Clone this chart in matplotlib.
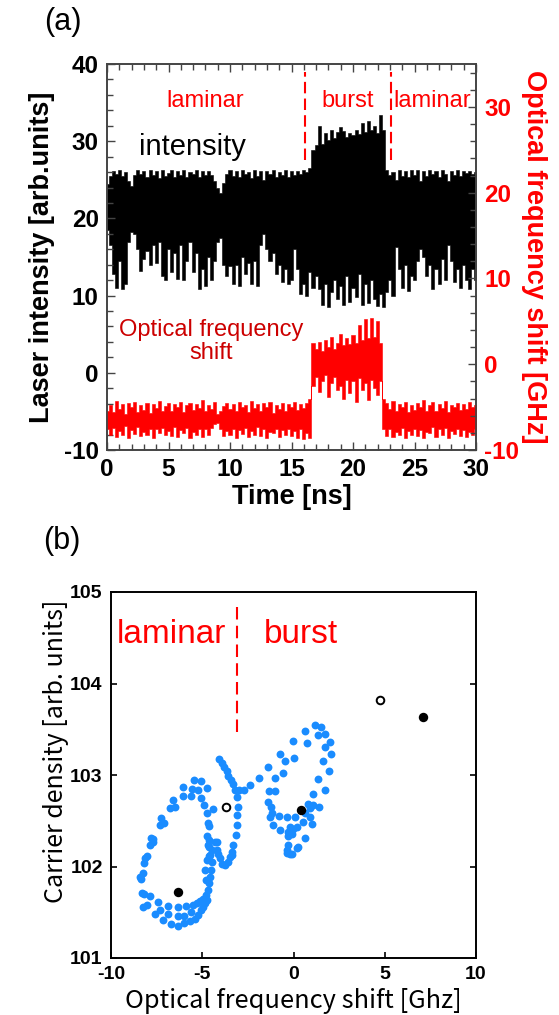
import numpy as np
import matplotlib
matplotlib.use("Agg")
import matplotlib.pyplot as plt
from matplotlib.ticker import MultipleLocator

plt.rcParams['font.family'] = ['Liberation Sans', 'DejaVu Sans']
plt.rcParams['axes.unicode_minus'] = False

time_ns = np.linspace(0, 30, 121)

intensity_upper = [
    24.5, 25.5, 26.2, 25.8, 26.3, 25.5, 26.0, 24.8, 24.2, 25.6, 26.3, 25.7, 26.2, 25.4, 26.3, 25.6, 26.1, 25.2, 26.3, 25.5,
    25.9, 26.3, 25.4, 26.2, 25.6, 26.3, 25.4, 26.0, 25.8, 26.3, 25.3, 26.1, 25.6, 26.2, 25.6, 24.8, 24.0, 23.3, 24.6, 25.8,
    26.3, 25.5, 26.1, 25.3, 26.3, 25.7, 26.0, 25.2, 26.3, 25.5, 26.2, 25.0, 26.1, 25.7, 26.3, 25.4, 26.0, 25.6, 26.3, 25.3,
    26.1, 25.6, 26.2, 25.8, 26.3, 26.0, 26.5, 28.8, 29.5, 32.0, 29.6, 31.0, 30.2, 31.5, 30.4, 31.2, 31.8, 31.3, 30.6, 31.0,
    30.8, 31.5, 30.9, 32.4, 31.2, 32.6, 31.4, 32.0, 31.0, 33.4, 31.5, 26.3, 25.6, 26.0, 25.0, 26.3, 25.5, 26.2, 25.4, 26.3,
    25.6, 26.3, 24.9, 26.1, 25.5, 26.3, 25.7, 26.2, 25.3, 26.3, 25.8, 24.9, 26.2, 25.6, 26.3, 25.5, 26.1, 25.9, 26.2, 25.7, 26.0,
]
intensity_lower = [
    18.5, 16.5, 12.8, 11.0, 14.5, 10.8, 11.5, 17.0, 18.2, 18.0, 16.0, 13.2, 14.8, 15.8, 14.0, 16.5, 14.2, 17.0, 12.5, 12.0,
    16.0, 13.0, 15.5, 12.2, 16.5, 12.0, 14.5, 17.0, 13.0, 15.5, 10.8, 13.5, 11.2, 15.0, 12.0, 14.5, 17.0, 17.5, 14.0, 12.5,
    13.8, 11.5, 14.0, 11.2, 15.0, 12.8, 14.2, 11.5, 14.5, 11.3, 16.5, 18.0, 16.0, 14.5, 15.5, 12.8, 14.0, 11.8, 13.5, 11.5,
    12.0, 16.0, 13.5, 10.2, 11.5, 10.0, 13.0, 11.0, 12.5, 10.8, 8.8, 11.5, 8.5, 10.5, 12.0, 9.5, 11.2, 8.8, 12.5, 9.2,
    11.0, 9.8, 12.8, 8.8, 11.5, 9.0, 12.0, 9.5, 8.6, 10.2, 8.5, 10.5, 12.0, 10.0, 16.3, 13.5, 11.0, 14.0, 10.6, 12.5,
    12.0, 14.5, 16.0, 15.0, 12.5, 14.0, 10.8, 13.5, 11.5, 14.8, 12.0, 16.5, 14.5, 11.8, 13.5, 11.0, 14.0, 12.0, 10.8, 13.5, 12.0,
]
shift_upper = [
    -5.5, -4.8, -5.6, -4.3, -5.2, -4.6, -5.8, -4.5, -5.0, -4.4, -5.6, -4.7, -5.3, -4.5, -5.7, -4.6, -5.1, -4.3, -5.5, -4.9,
    -4.5, -5.4, -4.6, -5.0, -4.4, -5.6, -4.8, -4.5, -5.3, -4.6, -5.1, -4.2, -5.5, -4.7, -5.2, -4.4, -5.8, -5.5, -4.9, -4.5,
    -5.2, -4.6, -5.5, -4.4, -5.0, -4.7, -5.6, -4.3, -5.1, -4.6, -5.4, -4.5, -5.0, -4.4, -5.7, -4.8, -5.2, -4.5, -5.5, -4.6,
    -5.0, -4.4, -5.3, -4.6, -5.1, -4.5, -4.0, 2.5, 1.8, 2.6, 1.5, 2.8, 2.0, 3.2, 1.8, 2.5, 3.5, 2.2, 3.0, 2.4,
    3.4, 2.5, 4.6, 2.8, 5.3, 3.0, 5.4, 3.2, 5.0, 2.5, -4.0, -4.5, -5.2, -4.3, -5.4, -4.6, -5.0, -4.4, -5.6, -4.7,
    -5.3, -4.5, -5.0, -4.2, -5.4, -4.8, -4.4, -5.5, -4.6, -5.1, -4.3, -5.6, -4.7, -5.0, -4.5, -5.3, -4.6, -5.2, -4.4, -5.0, -4.8,
]
shift_lower = [
    -7.5, -8.2, -7.4, -8.5, -7.8, -8.3, -7.2, -8.6, -7.7, -8.1, -7.3, -8.4, -7.9, -8.2, -7.5, -8.6, -7.6, -8.0, -7.4, -8.3,
    -7.8, -8.4, -7.3, -8.5, -7.7, -8.0, -7.4, -8.6, -7.9, -8.2, -7.5, -8.5, -7.6, -8.3, -7.4, -7.0, -6.8, -7.6, -8.4, -7.8,
    -8.3, -7.5, -8.6, -7.7, -8.1, -7.4, -8.5, -7.8, -8.2, -7.3, -8.4, -7.6, -8.6, -7.9, -8.0, -7.5, -8.5, -7.7, -8.3, -7.6,
    -8.4, -7.8, -8.6, -7.5, -8.7, -8.0, -8.6, -2.5, -1.5, -3.2, -2.0, -1.2, -3.8, -2.2, -1.5, -3.0, -2.5, -4.0, -1.8, -3.4,
    -2.0, -4.4, -1.6, -3.0, -2.2, -4.2, -1.8, -2.8, -3.6, -2.0, -7.5, -8.4, -7.6, -8.5, -7.9, -8.2, -7.4, -8.6, -7.8, -8.3,
    -7.5, -8.4, -7.7, -8.6, -7.9, -8.0, -7.3, -8.5, -7.6, -8.2, -7.4, -8.6, -7.8, -8.1, -7.5, -8.4, -7.7, -8.5, -7.9, -8.2, -7.6,
]
burst_marks_ns = [16.1, 23.1]

# ---- panel (b): carrier density vs optical frequency shift
blue_x = [
    -8.23, -8.04, -8.32, -8.18, -8.36, -8.41, -8.23, -8.18, -8.14, -8.04, -7.86, -7.72,
    -7.86, -7.41, -7.59, -7.32, -7.13, -6.86, -6.86, -6.71, -6.35, -6.31, -6.31, -5.98,
    -5.98, -5.89, -5.67, -5.62, -5.49, -5.40, -5.22, -5.30, -5.08, -5.12, -4.98, -4.94,
    -4.85, -4.79, -4.72, -4.67, -4.61, -4.58, -4.54, -4.48, -4.58, -4.48, -4.67, -4.61,
    -4.79, -4.85, -4.74, -4.30, -4.12, -4.03, -3.93, -3.75, -3.57, -3.39, -3.30,
    -0.28, -0.19, -0.36, 0.21,
    -7.82, -7.68, -7.32, -7.26, -7.08, -6.77, -6.62, -6.49, -6.04, -6.04, -5.62, -5.58,
    -5.44, -5.08, -5.25, -4.76, -5.07, -4.89, -4.76, -4.39, -4.67, -4.63, -4.72, -4.21,
    -4.63, -4.18, -4.61,
    -4.07, -3.93, -3.81, -3.66, -3.57, -3.42, -3.30, -3.21, -2.97, -2.71, -2.38, -1.91,
    -1.38, -0.74, -0.47, -0.01, 0.04, -0.59, -1.01, -1.33, -1.01, -1.38, -1.25, -1.19,
    -0.79, -0.37, -1.11, -0.74,
    -3.11, -3.06, -3.08, -3.11, -3.15, -3.35, -3.48,
    1.18, 1.51, 0.63, 1.33, 1.73, 0.72, 2.00, 1.73, 2.06, 1.60, 1.96, 1.36, 1.73, 1.05,
    0.81, 1.09, 0.90, 1.41, -1.29, 0.08, 0.63, 0.90, 0.54, 0.18, -0.19, 1.00, -0.28,
    -0.10, -0.28, -0.01, 0.63, 0.26, -0.37, -0.10,
]
blue_y = [
    101.56, 101.58, 101.71, 101.70, 101.86, 101.89, 101.93, 102.04, 102.09, 102.11, 102.24, 102.27,
    101.68, 101.61, 101.48, 101.52, 101.41, 101.57, 101.48, 101.37, 101.56, 101.46, 101.35, 101.38,
    101.46, 101.57, 101.40, 101.50, 101.58, 101.43, 101.47, 101.60, 101.52, 101.62, 101.56, 101.65,
    101.60, 101.69, 101.63, 101.74, 101.82, 101.89, 101.96, 102.05, 102.13, 102.18, 102.24, 102.29,
    101.85, 101.96, 102.07, 102.27, 102.14, 102.09, 102.03, 102.02, 102.05, 102.13, 102.24,
    102.24, 102.14, 102.18, 102.20,
    102.31, 102.30, 102.45, 102.53, 102.48, 102.64, 102.73, 102.65, 102.77, 102.87, 102.77, 102.85,
    102.94, 102.93, 102.84, 102.86, 102.75, 102.67, 102.58, 102.63, 102.47, 102.44, 102.33, 102.27,
    102.21, 102.18, 102.11,
    103.18, 103.13, 103.09, 103.04, 102.99, 102.95, 102.90, 102.84, 102.84, 102.84, 102.89, 102.97,
    103.09, 103.23, 103.15, 103.37, 103.19, 103.02, 102.97, 102.83, 102.83, 102.70, 102.65, 102.59,
    102.55, 102.54, 102.45, 102.40,
    102.76, 102.65, 102.56, 102.45, 102.34, 102.16, 102.10,
    103.55, 103.53, 103.48, 103.44, 103.45, 103.35, 103.36, 103.31, 103.23, 103.15, 103.04, 102.96, 102.84, 102.79,
    102.68, 102.67, 102.64, 102.65, 102.54, 102.54, 102.58, 102.54, 102.49, 102.43, 102.43, 102.46, 102.38,
    102.35, 102.33, 102.41, 102.31, 102.21, 102.15, 102.14,
]
black_x = [-6.35, 0.41, 7.11]
black_y = [101.72, 102.62, 103.63]
open_x = [-3.70, 4.72]
open_y = [102.65, 103.82]

fig = plt.figure(figsize=(5.59, 10.15), dpi=100)

# ================= (a)
ax1 = fig.add_axes([107 / 559, 1 - 450 / 1015, 369 / 559, 386 / 1015])
ax1.fill_between(time_ns, intensity_lower, intensity_upper, step='mid',
                 facecolor='black', edgecolor='black', linewidth=0.4)
ax1.set_xlim(0, 30)
ax1.set_ylim(-10, 40)
ax1.set_xticks(range(0, 31, 5))
ax1.xaxis.set_minor_locator(MultipleLocator(1))
ax1.set_yticks(range(-10, 41, 10))
ax1.yaxis.set_minor_locator(MultipleLocator(2))
ax1.tick_params(which='both', direction='in', top=True, right=False, labelsize=17.5,
                pad=6, color='#444444')
ax1.tick_params(which='major', length=6, width=1)
ax1.tick_params(which='minor', length=4, width=1)
for lab in ax1.get_xticklabels() + ax1.get_yticklabels():
    lab.set_fontweight('bold')
ax1.set_xlabel('Time [ns]', fontsize=19.5, fontweight='bold', labelpad=2)
ax1.set_ylabel('Laser intensity [arb.units]', fontsize=19.5, fontweight='bold', labelpad=6)

ax2 = ax1.twinx()
ax2.fill_between(time_ns, shift_lower, shift_upper, step='mid', facecolor='#ff0000',
                 edgecolor='#ff0000', linewidth=0.4)
ax2.set_ylim(-10, 35)
ax2.set_yticks(range(-10, 31, 10))
ax2.yaxis.set_minor_locator(MultipleLocator(2))
ax2.tick_params(which='both', direction='in', labelsize=17.5, pad=6,
                labelcolor='#ff0000', color='#444444')
ax2.tick_params(which='major', length=6, width=1)
ax2.tick_params(which='minor', length=4, width=1)
for lab in ax2.get_yticklabels():
    lab.set_fontweight('bold')
ax2.set_ylabel('Optical frequency shift [GHz]', fontsize=19.5, fontweight='bold',
               color='#ff0000', rotation=270, labelpad=20)
for ax in (ax1, ax2):
    for sp in ax.spines.values():
        sp.set_color('#444444')
        sp.set_linewidth(1.2)

for tm in burst_marks_ns:
    ax1.plot([tm, tm], [27.6, 38.9], color='#ff0000', lw=1.5, ls=(0, (5.5, 2.5)))
ax1.text(8.0, 35.2, 'laminar', color='#ff0000', fontsize=17, ha='center', va='center')
ax1.text(19.6, 35.2, 'burst', color='#ff0000', fontsize=17, ha='center', va='center')
ax1.text(26.45, 35.2, 'laminar', color='#ff0000', fontsize=17, ha='center', va='center')
ax1.text(6.95, 29.3, 'intensity', color='black', fontsize=21, ha='center', va='center')
ax1.text(8.45, 4.0, 'Optical frequency\nshift', color='#cc0000', fontsize=17,
         ha='center', va='center', linespacing=1.05)
fig.text(63 / 559, 1 - 22 / 1015, '(a)', fontsize=22, ha='center', va='center')

# ================= (b)
ax3 = fig.add_axes([111 / 559, 57 / 1015, 365 / 559, 366 / 1015])
ax3.scatter(blue_x, blue_y, s=32, color='#1a8cff', linewidths=0, zorder=2)
ax3.scatter(black_x, black_y, s=46, color='black', linewidths=0, zorder=3)
ax3.scatter(open_x, open_y, s=30, facecolors='white', edgecolors='black',
            linewidths=1.4, zorder=3)
ax3.set_xlim(-10, 10)
ax3.set_ylim(101, 105)
ax3.set_xticks([-10, -5, 0, 5, 10])
ax3.set_yticks([101, 102, 103, 104, 105])
ax3.tick_params(direction='in', right=True, length=4, width=1.2, labelsize=14, pad=6)
for lab in ax3.get_xticklabels() + ax3.get_yticklabels():
    lab.set_fontweight('bold')
for sp in ax3.spines.values():
    sp.set_linewidth(1.4)
ax3.set_xlabel('Optical frequency shift [Ghz]', fontsize=18.3, labelpad=3,
               family=['Noto Sans CJK JP', 'DejaVu Sans'])
ax3.set_ylabel('Carrier density [arb. units]', fontsize=18, labelpad=6,
               family=['Noto Sans CJK JP', 'DejaVu Sans'])
ax3.yaxis.set_label_coords(-0.115, 0.566)
ax3.plot([-3.11, -3.11], [103.47, 104.86], color='#ff0000', lw=1.5, ls=(0, (6, 3)))
ax3.text(-6.68, 104.44, 'laminar', color='#ff0000', fontsize=24, ha='center', va='baseline')
ax3.text(0.41, 104.44, 'burst', color='#ff0000', fontsize=24, ha='center', va='baseline')
fig.text(62 / 559, 1 - 541 / 1015, '(b)', fontsize=22, ha='center', va='center')

fig.savefig('out.png', dpi=100)
